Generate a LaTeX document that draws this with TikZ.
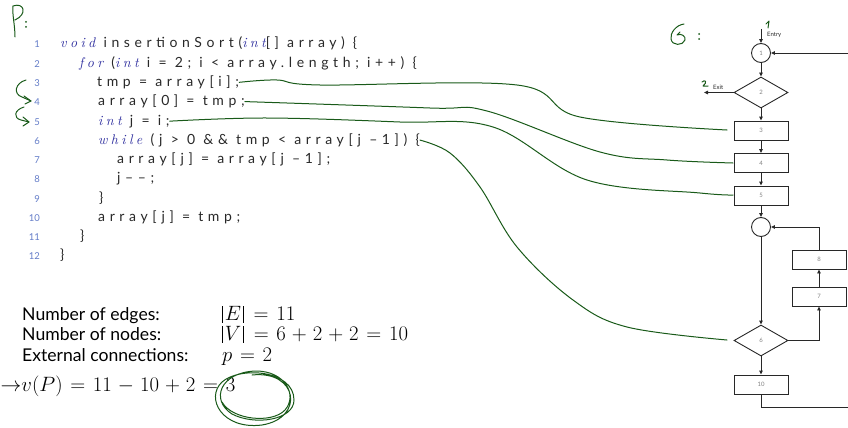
\documentclass[tikz,border=0pt]{standalone}
\usepackage{fontspec}
\usetikzlibrary{shapes.geometric,arrows.meta,calc}
\newfontfamily\codefont[LetterSpace=33]{Lato}
\newfontfamily\labfont{Lato}
\newfontfamily\kwfont{lmroman10-italic.otf}[LetterSpace=24]
\definecolor{kwblue}{RGB}{50,50,160}
\definecolor{numblue}{RGB}{100,125,200}
\definecolor{pen}{RGB}{25,90,25}
\definecolor{fgray}{RGB}{40,40,40}
\newcommand{\kw}[1]{{\color{kwblue}\kwfont #1}}
\newcommand{\wide}{\thickmuskip=6.7mu plus 2mu\medmuskip=5.2mu plus 2mu}
\newcommand{\vbarx}{\mathord{\hbox{\kern2pt\rule[-2.5pt]{0.75pt}{16.5pt}\kern2pt}}}
\tikzset{
  codeline/.style={anchor=base west,inner sep=0pt,font=\codefont\fontsize{14}{16}\selectfont,text=fgray},
  lnum/.style={anchor=base east,inner sep=0pt,font=\labfont\fontsize{9.5}{11}\selectfont,text=numblue},
  stat/.style={anchor=base west,inner sep=0pt,font=\labfont\fontsize{17.6}{20}\selectfont},
  mathl/.style={anchor=base west,inner sep=0pt,font=\fontsize{19.5}{22}\selectfont\wide},
  fcbox/.style={draw=fgray,line width=0.9pt,rectangle,minimum width=54pt,minimum height=19pt,inner sep=0pt,font=\labfont\fontsize{6}{7}\selectfont,text=gray},
  fcdia/.style={draw=fgray,line width=0.9pt,diamond,minimum width=54pt,minimum height=31pt,inner sep=0pt,font=\labfont\fontsize{6}{7}\selectfont,text=gray},
  fccirc/.style={draw=fgray,line width=0.9pt,circle,minimum size=19pt,inner sep=0pt,font=\labfont\fontsize{6}{7}\selectfont,text=gray},
  flow/.style={draw=fgray,line width=0.9pt,-{Triangle[length=4pt,width=3.5pt]}},
  flowline/.style={draw=fgray,line width=0.9pt},
  tiny/.style={font=\labfont\fontsize{6}{7}\selectfont,text=fgray,inner sep=0pt,anchor=west},
  ink/.style={draw=pen,line width=1pt,line cap=round,line join=round},
}
\begin{document}
\begin{tikzpicture}[x=1pt,y=-1pt]
\useasboundingbox (0,0) rectangle (848,428);
% ---- code ----
\foreach \k in {1,...,12}{
  \node[lnum] (n\k) at (40,{48+(\k-1)*19.25}) {\k};
}
\node[codeline] (l1) at (60,48) {\kw{void} insertionSort(\kw{int}[] array) \{};
\node[codeline] (l2) at (79,67.25) {\kw{for} (\kw{int} i = 2; i < array.length; i++) \{};
\node[codeline] (l3) at (97,86.5) {tmp = array[i];};
\node[codeline] (l4) at (98,105.75) {array[0] = tmp;};
\node[codeline] (l5) at (98,125) {\kw{int} j = i;};
\node[codeline] (l6) at (98,144.25) {\kw{while} (j > 0 \&\& tmp < array[j \textendash1]) \{};
\node[codeline] (l7) at (117,163.5) {array[j] = array[j \textendash1];};
\node[codeline] (l8) at (117,182.75) {j\textendash\textendash;};
\node[codeline] (l9) at (99,202) {\}};
\node[codeline] (l10) at (98,221.25) {array[j] = tmp;};
\node[codeline] (l11) at (80,240.5) {\}};
\node[codeline] (l12) at (60,259.75) {\}};
% ---- stats ----
\node[stat] (s1) at (22,320) {Number of edges:};
\node[stat] (s2) at (22,340) {Number of nodes:};
\node[stat] (s3) at (22,361) {External connections:};
\node[mathl] (m1) at (220,320) {$\vbarx E\vbarx = 11$};
\node[mathl] (m2) at (220,340) {$\vbarx V\vbarx = 6+2+2 = 10$};
\node[mathl] (m3) at (222,361) {$p = 2$};
\node[mathl] (m4) at (0.5,391) {$\mathord{\rightarrow}v(P) = 11 - 10 + 2 = 3$};
% ---- flow graph ----
\coordinate (entry) at (761,29);
\node[fccirc] (c1) at (761,53) {1};
\node[fcdia] (d2) at (761,92.5) {2};
\coordinate (exit) at (704,92.5);
\node[fcbox] (b3) at (761,130.5) {3};
\node[fcbox] (b4) at (761,163) {4};
\node[fcbox] (b5) at (761,195.5) {5};
\node[fccirc] (cj) at (761,227) {};
\node[fcbox] (b8) at (819,259.5) {8};
\node[fcbox] (b7) at (819,296.5) {7};
\node[fcdia] (d6) at (761,340.5) {6};
\node[fcbox] (b10) at (761,384.5) {10};
\coordinate (rb) at (848,407);
\coordinate (rt) at (848,53);
\node[tiny] (tentry) at (767,35) {Entry};
\node[tiny] (texit) at (713,87) {Exit};
\draw[flow] (entry) -- (c1);
\draw[flow] (c1) -- (d2);
\draw[flow] (d2.west) -- (exit);
\draw[flow] (d2) -- (b3);
\draw[flow] (b3) -- (b4);
\draw[flow] (b4) -- (b5);
\draw[flow] (b5) -- (cj);
\draw[flow] (cj) -- (d6);
\draw[flow] (d6) -- (b10);
\draw[flow] (d6.east) -| (b7.south);
\draw[flow] (b7) -- (b8);
\draw[flow] (b8.north) |- (cj.east);
\draw[flowline] (b10.south) |- (rb);
\draw[flow] (rt) -- (c1.east);
% ---- handwriting ----
\draw[ink] (15,37) .. controls (15,25) and (12,14) .. (13,6) .. controls (24,2) and (28,14) .. (15,20);
\fill[pen] (26,22) circle (1pt) (26,27) circle (1pt);
\draw[ink] (26,80) .. controls (15,83) and (13,94) .. (22,97) -- (31,101);
\draw[ink] (24,96) -- (31,101) -- (25,104);
\draw[ink] (24,107) .. controls (14,110) and (13,118) .. (21,120) -- (29,122);
\draw[ink] (23,117) -- (29,122) -- (23,126);
\draw[ink] (684,24) .. controls (676,25) and (670,33) .. (671,39) .. controls (672,46) and (683,46) .. (685,40) .. controls (686,36) and (681,33) .. (677,35) -- (680,32);
\fill[pen] (699,34) circle (1pt) (699,39) circle (1pt);
\draw[ink] (766,24) -- (769,21) -- (768,28);
\draw[ink] (702,82) .. controls (705,79) and (708,82) .. (703,86) -- (708,86);
% circles round =3
\draw[ink] (252,375) .. controls (298,370) and (305,418) .. (262,425)
  .. controls (222,430) and (205,398) .. (222,382)
  .. controls (240,366) and (294,370) .. (294,400)
  .. controls (294,420) and (255,426) .. (232,414)
  .. controls (210,400) and (220,372) .. (256,371)
  .. controls (285,371) and (298,395) .. (285,410)
  .. controls (272,424) and (232,420) .. (222,402);
% connectors code -> graph
\draw[ink] plot[smooth,tension=0.6] coordinates {(l3.east) (277,80) (320,85) (517,85) (580,117) (727,130)};
\draw[ink] plot[smooth,tension=0.6] coordinates {(l4.east) (430,108) (487,111) (600,152) (667,160) (733,163)};
\draw[ink] plot[smooth,tension=0.6] coordinates {(l5.east) (267,118) (400,122) (493,127) (587,180) (700,193) (733,195)};
\draw[ink] plot[smooth,tension=0.6] coordinates {(l6.east) (450,153) (480,187) (517,247) (573,300) (627,327) (727,340)};
\end{tikzpicture}
\end{document}
